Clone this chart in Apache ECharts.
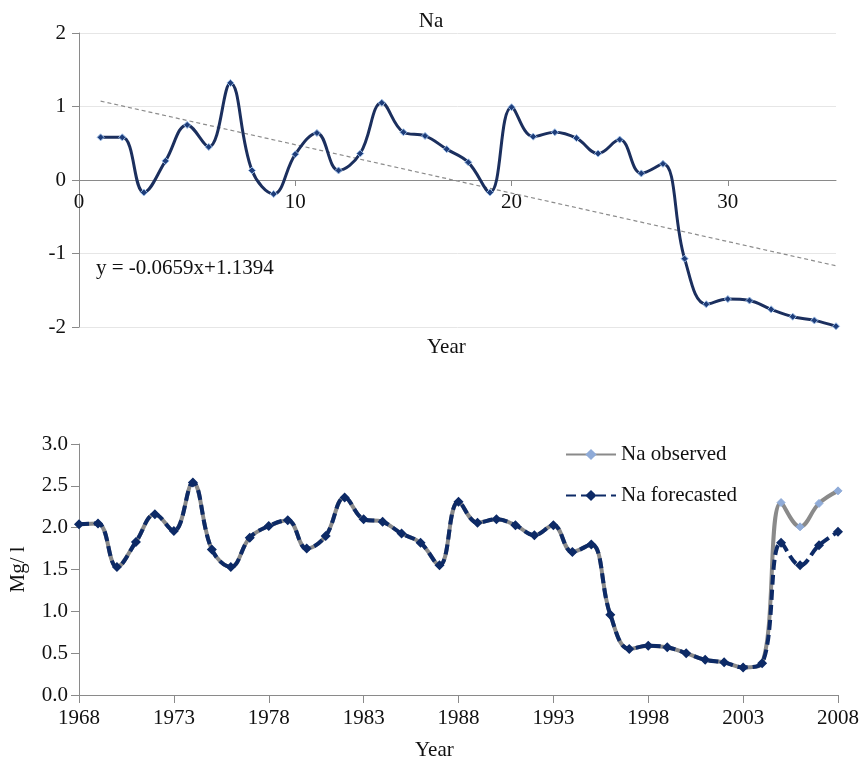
<!DOCTYPE html>
<html>
<head>
<meta charset="utf-8">
<script src="https://cdn.jsdelivr.net/npm/echarts@6/dist/echarts.min.js"></script>
<style>
  html, body { margin: 0; padding: 0; background: #fff; }
  #chart { width: 862px; height: 767px; }
</style>
</head>
<body>
<div id="chart"></div>
<script>
// Upper panel: Na index by sequence number, with its linear trend
const indexX = [1, 2, 3, 4, 5, 6, 7, 8, 9, 10, 11, 12, 13, 14, 15, 16, 17, 18, 19, 20,
  21, 22, 23, 24, 25, 26, 27, 28, 29, 30, 31, 32, 33, 34, 35];
const naIndex = [0.58, 0.58, -0.17, 0.26, 0.75, 0.45, 1.32, 0.13, -0.19, 0.35,
  0.64, 0.13, 0.36, 1.05, 0.65, 0.60, 0.42, 0.24, -0.17, 0.99,
  0.59, 0.65, 0.57, 0.36, 0.55, 0.09, 0.22, -1.07, -1.69, -1.62,
  -1.64, -1.76, -1.86, -1.91, -1.99];
const trendSlope = -0.0659;
const trendIntercept = 1.1394;
const topTickLabels = [0, 10, 20, 30];

// Lower panel: observed vs forecasted Na concentration (Mg/l)
const years = [1968, 1969, 1970, 1971, 1972, 1973, 1974, 1975, 1976, 1977,
  1978, 1979, 1980, 1981, 1982, 1983, 1984, 1985, 1986, 1987,
  1988, 1989, 1990, 1991, 1992, 1993, 1994, 1995, 1996, 1997,
  1998, 1999, 2000, 2001, 2002, 2003, 2004, 2005, 2006, 2007, 2008];
const naObserved = [2.04, 2.05, 1.53, 1.83, 2.16, 1.96, 2.54, 1.74, 1.53, 1.88,
  2.02, 2.09, 1.75, 1.90, 2.36, 2.10, 2.07, 1.93, 1.82, 1.55,
  2.31, 2.06, 2.10, 2.03, 1.91, 2.03, 1.71, 1.80, 0.96, 0.55,
  0.59, 0.57, 0.50, 0.42, 0.39, 0.33, 0.38, 2.30, 2.01, 2.29, 2.44];
const naForecast = [2.04, 2.05, 1.53, 1.83, 2.16, 1.96, 2.54, 1.74, 1.53, 1.88,
  2.02, 2.09, 1.75, 1.90, 2.36, 2.10, 2.07, 1.93, 1.82, 1.55,
  2.31, 2.06, 2.10, 2.03, 1.91, 2.03, 1.71, 1.80, 0.96, 0.55,
  0.59, 0.57, 0.50, 0.42, 0.39, 0.33, 0.38, 1.82, 1.55, 1.79, 1.95];

const FONT = '"Liberation Serif", "Times New Roman", serif';
const FS = 21;
const TEXT = '#111';
const AXIS = '#8a8a8a';

const pairs = (xs, ys) => xs.map((x, i) => [x, ys[i]]);
const trendAt = x => trendSlope * x + trendIntercept;
const trendEnds = [indexX[0], indexX[indexX.length - 1]];

const TOP_GRID = { left: 79, top: 33, width: 757, height: 294 };
const TOP_Y = [-2, 2];
// the horizontal axis of the upper panel sits on the y = 0 line
const zeroOffset = -TOP_GRID.height * (0 - TOP_Y[0]) / (TOP_Y[1] - TOP_Y[0]);

const chart = echarts.init(document.getElementById('chart'), null, { renderer: 'canvas' });

const labelStyle = { fontFamily: FONT, fontSize: FS, color: TEXT };

chart.setOption({
  backgroundColor: '#fff',
  animation: false,
  textStyle: { fontFamily: FONT },
  grid: [
    TOP_GRID,
    { left: 79, top: 444, width: 759, height: 251 }
  ],
  legend: {
    data: ['Na observed', 'Na forecasted'],
    orient: 'vertical',
    left: 560,
    top: 439,
    itemWidth: 50,
    itemHeight: 14,
    itemGap: 20,
    textStyle: { fontFamily: FONT, fontSize: FS, color: TEXT }
  },
  xAxis: [
    {
      type: 'value', gridIndex: 0, min: 0, max: 35, interval: 10,
      position: 'bottom', offset: zeroOffset,
      axisLine: { show: true, onZero: false, lineStyle: { color: AXIS, width: 1 } },
      axisTick: { show: true, length: 6, customValues: [10, 20, 30], lineStyle: { color: AXIS } },
      axisLabel: Object.assign({ margin: 12, customValues: topTickLabels }, labelStyle),
      splitLine: { show: false }
    },
    {
      type: 'value', gridIndex: 1, min: 1968, max: 2008, interval: 5,
      axisLine: { show: true, lineStyle: { color: AXIS, width: 1 } },
      axisTick: { show: true, length: 8, lineStyle: { color: AXIS } },
      axisLabel: Object.assign({ margin: 13, formatter: v => String(v) }, labelStyle),
      splitLine: { show: false }
    }
  ],
  yAxis: [
    {
      type: 'value', gridIndex: 0, min: TOP_Y[0], max: TOP_Y[1], interval: 1,
      axisLine: { show: true, onZero: false, lineStyle: { color: AXIS, width: 1 } },
      axisTick: { show: true, length: 7, lineStyle: { color: AXIS } },
      axisLabel: Object.assign({ margin: 13 }, labelStyle),
      splitLine: { show: true, lineStyle: { color: '#e6e6e6', width: 1 } }
    },
    {
      type: 'value', gridIndex: 1, min: 0, max: 3, interval: 0.5,
      name: 'Mg/ l', nameLocation: 'middle', nameGap: 50,
      nameTextStyle: { fontFamily: FONT, fontSize: FS, color: TEXT },
      axisLine: { show: true, onZero: false, lineStyle: { color: AXIS, width: 1 } },
      axisTick: { show: true, length: 8, lineStyle: { color: AXIS } },
      axisLabel: Object.assign({ margin: 11, formatter: v => v.toFixed(1) }, labelStyle),
      splitLine: { show: false }
    }
  ],
  graphic: [
    { type: 'text', left: 'center', top: 11, style: { text: 'Na', font: FS + 'px ' + FONT, fill: TEXT } },
    { type: 'text', x: 427, y: 337, style: { text: 'Year', font: FS + 'px ' + FONT, fill: TEXT } },
    { type: 'text', x: 96, y: 258, style: { text: 'y = -0.0659x+1.1394', font: FS + 'px ' + FONT, fill: TEXT } },
    { type: 'text', x: 415, y: 740, style: { text: 'Year', font: FS + 'px ' + FONT, fill: TEXT } }
  ],
  series: [
    {
      name: 'Trend', type: 'line', xAxisIndex: 0, yAxisIndex: 0,
      data: trendEnds.map(x => [x, trendAt(x)]),
      symbol: 'none', silent: true, z: 2,
      lineStyle: { color: '#8c8c8c', width: 1.2, type: [4, 3] }
    },
    {
      name: 'Na', type: 'line', xAxisIndex: 0, yAxisIndex: 0,
      data: pairs(indexX, naIndex),
      smooth: 0.4, symbol: 'diamond', symbolSize: 7, z: 3,
      lineStyle: { color: '#1b2f5e', width: 3 },
      itemStyle: { color: '#1e3d7a', borderColor: '#9bbce6', borderWidth: 1 }
    },
    {
      name: 'Na observed', type: 'line', xAxisIndex: 1, yAxisIndex: 1,
      data: pairs(years, naObserved),
      smooth: 0.4, symbol: 'diamond', symbolSize: 8, z: 3,
      lineStyle: { color: '#8a8a8a', width: 4 },
      itemStyle: { color: '#8fabd8', borderColor: '#8fabd8' }
    },
    {
      name: 'Na forecasted', type: 'line', xAxisIndex: 1, yAxisIndex: 1,
      data: pairs(years, naForecast),
      smooth: 0.4, symbol: 'diamond', symbolSize: 10, z: 4,
      lineStyle: { color: '#0d2a66', width: 4, type: [10, 5] },
      itemStyle: { color: '#0d2a66' }
    }
  ]
});
</script>
</body>
</html>
